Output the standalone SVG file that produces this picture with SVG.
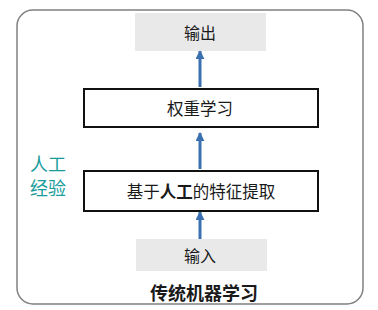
<svg xmlns="http://www.w3.org/2000/svg" width="378" height="310" viewBox="0 0 378 310">
<style>
text{font-family:"Noto Sans CJK SC","Noto Sans",sans-serif;text-anchor:middle;dominant-baseline:central;fill:#1a1a1a}
.gray{fill:#e9e9e9;stroke:none}
.box{fill:#fff;stroke:#111;stroke-width:2}
.arrow{stroke:#3b70b0;stroke-width:3;fill:none;marker-end:url(#ah)}
.teal{fill:#1a9c9c}
</style>
<defs>
<marker id="ah" viewBox="0 0 10 10" refX="9" refY="5" markerWidth="3.2" markerHeight="3" orient="auto" markerUnits="strokeWidth">
<path d="M0,0 L10,5 L0,10 z" fill="#3b70b0"/>
</marker>
</defs>
<rect x="17" y="10" width="346" height="294" rx="16" fill="#fff" stroke="#808080" stroke-width="1.5"/>
<g id="connectors">
<line class="arrow" x1="200" y1="87" x2="200" y2="51"/>
<line class="arrow" x1="200" y1="169" x2="200" y2="133"/>
<line class="arrow" x1="200" y1="239" x2="200" y2="212"/>
</g>
<g id="output">
<rect class="gray" x="135" y="13" width="131" height="38"/>
<text x="200" y="32" font-size="16">输出</text>
</g>
<g id="weights">
<rect class="box" x="84" y="89" width="234" height="38"/>
<text x="200" y="108" font-size="16.5">权重学习</text>
</g>
<g id="features">
<rect class="box" x="84" y="171" width="234" height="40"/>
<text x="201" y="191" font-size="16.5">基于<tspan font-weight="bold">人工</tspan>的特征提取</text>
</g>
<g id="input">
<rect class="gray" x="136" y="239" width="131" height="32"/>
<text x="200" y="255" font-size="16">输入</text>
</g>
<g id="experience">
<text x="48" y="163" font-size="18" class="teal">人工</text>
<text x="48" y="187" font-size="18" class="teal">经验</text>
</g>
<g id="title">
<text x="204" y="292" font-size="18" font-weight="bold">传统机器学习</text>
</g>
</svg>
